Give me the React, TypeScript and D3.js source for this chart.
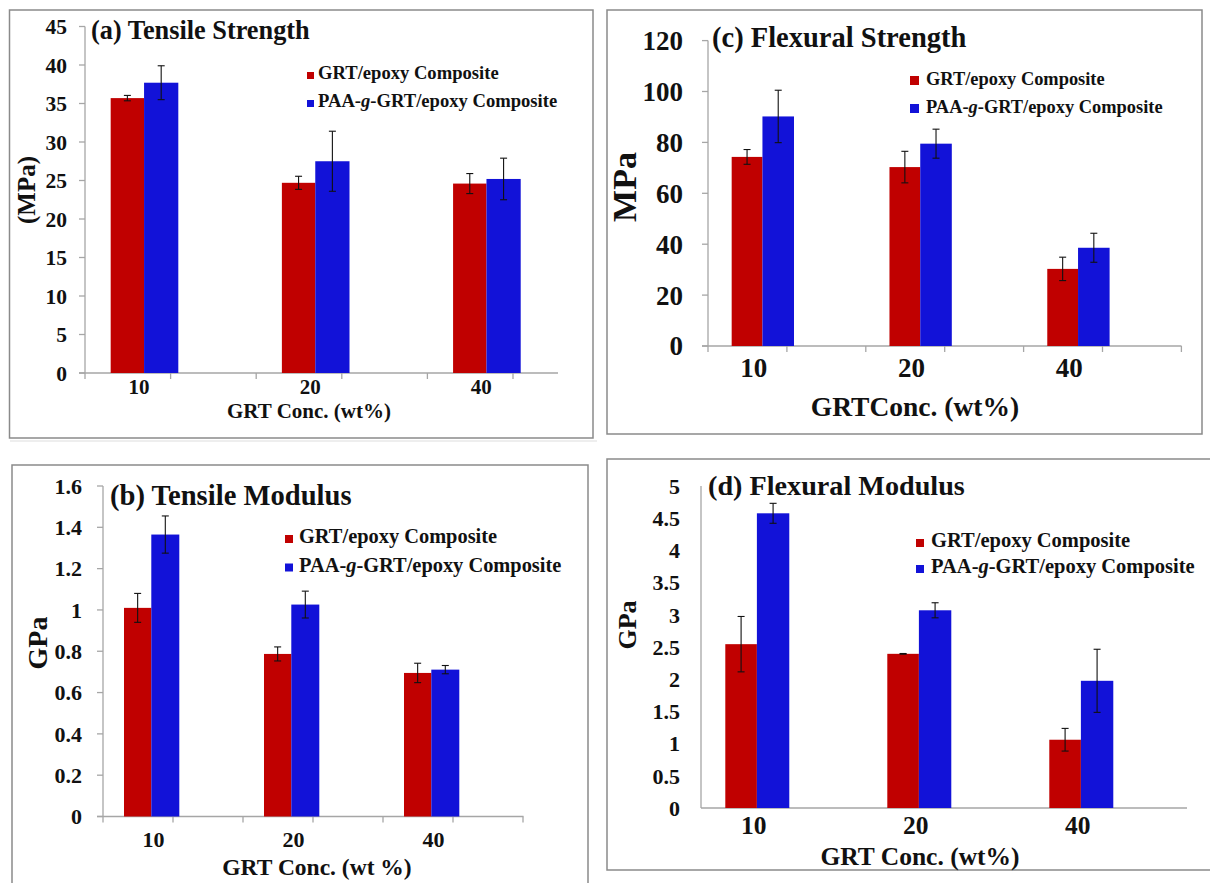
import React from "react";
import * as d3 from "d3";

// ---------- data ----------
const categories = ["10", "20", "40"];

const tensileStrengthGRT = [35.7, 24.7, 24.6];
const tensileStrengthGRTErr = [0.35, 0.85, 1.3];
const tensileStrengthPAA = [37.7, 27.5, 25.2];
const tensileStrengthPAAErr = [2.2, 3.9, 2.7];

const tensileModulusGRT = [1.01, 0.787, 0.695];
const tensileModulusGRTErr = [0.07, 0.034, 0.047];
const tensileModulusPAA = [1.365, 1.026, 0.711];
const tensileModulusPAAErr = [0.09, 0.065, 0.02];

const flexuralStrengthGRT = [74.3, 70.3, 30.3];
const flexuralStrengthGRTErr = [2.9, 6.2, 4.6];
const flexuralStrengthPAA = [90.2, 79.5, 38.6];
const flexuralStrengthPAAErr = [10.3, 5.7, 5.7];

const flexuralModulusGRT = [2.544, 2.394, 1.06];
const flexuralModulusGRTErr = [0.43, 0.005, 0.176];
const flexuralModulusPAA = [4.576, 3.07, 1.975];
const flexuralModulusPAAErr = [0.155, 0.117, 0.49];

const seriesNames = ["GRT/epoxy Composite", "PAA-g-GRT/epoxy Composite"];

const FONT = "'Liberation Serif', 'Times New Roman', serif";
const RED = "#c00000";
const BLUE = "#1212d8";
const AXIS = "#a6a6a6";

type Cfg = {
  title: string;
  yLabel: string;
  xLabel: string;
  red: number[]; redErr: number[]; blue: number[]; blueErr: number[];
  yMax: number; yStep: number;
  box: [number, number, number, number];
  x0: number; slot: number; axisEnd: number; xTickMax: number;
  y0: number; yTop: number;
  ticks: boolean;
  tickFs: number; tickRight: number;
  catFs: number; catY: number; catOff: number;
  titleFs: number; titleX: number; titleY: number;
  legFs: number; legX: number; legY1: number; legY2: number; sq: number; sqX: number;
  xlFs: number; xlX: number; xlY: number;
  ylFs: number; ylX: number; ylY: number;
};

const panels: Cfg[] = [
  {
    title: "(a) Tensile Strength", yLabel: "(MPa)", xLabel: "GRT Conc. (wt%)",
    red: tensileStrengthGRT, redErr: tensileStrengthGRTErr, blue: tensileStrengthPAA, blueErr: tensileStrengthPAAErr,
    yMax: 45, yStep: 5,
    box: [9.5, 10, 593, 438],
    x0: 85, slot: 85.6, axisEnd: 558, xTickMax: 5,
    y0: 373, yTop: 26.5, ticks: true,
    tickFs: 21.5, tickRight: 67,
    catFs: 21, catY: 394, catOff: 0.63,
    titleFs: 26.3, titleX: 91, titleY: 39,
    legFs: 18.6, legX: 318, legY1: 79, legY2: 107, sq: 7, sqX: 307,
    xlFs: 21, xlX: 309, xlY: 418,
    ylFs: 25, ylX: 26, ylY: 190,
  },
  {
    title: "(b) Tensile Modulus", yLabel: "GPa", xLabel: "GRT Conc. (wt %)",
    red: tensileModulusGRT, redErr: tensileModulusGRTErr, blue: tensileModulusPAA, blueErr: tensileModulusPAAErr,
    yMax: 1.6, yStep: 0.2,
    box: [12, 465, 588, 900],
    x0: 103, slot: 70, axisEnd: 523.5, xTickMax: 6,
    y0: 816.5, yTop: 486, ticks: true,
    tickFs: 22, tickRight: 82,
    catFs: 22, catY: 847, catOff: 0.72,
    titleFs: 28.6, titleX: 110, titleY: 505,
    legFs: 20.4, legX: 299, legY1: 543, legY2: 571.5, sq: 8, sqX: 285,
    xlFs: 23.5, xlX: 317, xlY: 875,
    ylFs: 28, ylX: 37, ylY: 643,
  },
  {
    title: "(c) Flexural Strength", yLabel: "MPa", xLabel: "GRTConc. (wt%)",
    red: flexuralStrengthGRT, redErr: flexuralStrengthGRTErr, blue: flexuralStrengthPAA, blueErr: flexuralStrengthPAAErr,
    yMax: 120, yStep: 20,
    box: [607, 10, 1202, 434],
    x0: 708, slot: 78.9, axisEnd: 1181.5, xTickMax: 6,
    y0: 346, yTop: 40.6, ticks: true,
    tickFs: 27, tickRight: 683,
    catFs: 27, catY: 377, catOff: 0.58,
    titleFs: 28.5, titleX: 712, titleY: 47,
    legFs: 18.4, legX: 926, legY1: 85, legY2: 113, sq: 9, sqX: 910,
    xlFs: 27.5, xlX: 915, xlY: 416,
    ylFs: 34, ylX: 624, ylY: 187,
  },
  {
    title: "(d) Flexural Modulus", yLabel: "GPa", xLabel: "GRT Conc. (wt%)",
    red: flexuralModulusGRT, redErr: flexuralModulusGRTErr, blue: flexuralModulusPAA, blueErr: flexuralModulusPAAErr,
    yMax: 5, yStep: 0.5,
    box: [607, 459, 1220, 870],
    x0: 701, slot: 81, axisEnd: 1187, xTickMax: -1,
    y0: 808, yTop: 486, ticks: false,
    tickFs: 22, tickRight: 680,
    catFs: 25.5, catY: 834, catOff: 0.65,
    titleFs: 28.2, titleX: 708, titleY: 495,
    legFs: 20.5, legX: 931, legY1: 547, legY2: 573, sq: 8, sqX: 916,
    xlFs: 25.5, xlX: 920, xlY: 864.5,
    ylFs: 26, ylX: 627, ylY: 625,
  },
];

function fmt(v: number) {
  return String(+v.toFixed(2));
}

function LegendText({ text, x, y, fs }: { text: string; x: number; y: number; fs: number }) {
  if (text.includes("-g-")) {
    const [a, b] = text.split("-g-");
    return (
      <text x={x} y={y} fontSize={fs} fontFamily={FONT} fontWeight="bold" fill="#111">
        <tspan>{a}-</tspan>
        <tspan fontStyle="italic">g</tspan>
        <tspan>-{b}</tspan>
      </text>
    );
  }
  return (
    <text x={x} y={y} fontSize={fs} fontFamily={FONT} fontWeight="bold" fill="#111">
      {text}
    </text>
  );
}

function Panel({ c }: { c: Cfg }) {
  const x = d3.scaleLinear().domain([0, 6]).range([c.x0, c.x0 + 6 * c.slot]);
  const y = d3.scaleLinear().domain([0, c.yMax]).range([c.y0, c.yTop]);
  const yTicks = d3.range(0, c.yMax + c.yStep / 2, c.yStep);
  const xTicks = c.xTickMax >= 0 ? d3.range(0, c.xTickMax + 1) : [];
  const [bx0, by0, bx1, by1] = c.box;
  const capW = 3.5;

  const bars = categories.flatMap((cat, i) => {
    const s = 2 * i;
    return [
      { key: `r${i}`, x0: x(s + 0.3), x1: x(s + 0.69), v: c.red[i], e: c.redErr[i], color: RED },
      { key: `b${i}`, x0: x(s + 0.69), x1: x(s + 1.09), v: c.blue[i], e: c.blueErr[i], color: BLUE },
    ];
  });

  return (
    <g>
      <rect x={bx0} y={by0} width={bx1 - bx0} height={by1 - by0} fill="none" stroke="#8a8a8a" strokeWidth={1.5} />
      {/* axes */}
      <line x1={c.x0} x2={c.x0} y1={c.y0} y2={c.yTop} stroke={AXIS} strokeWidth={1.3} />
      <line x1={c.ticks ? c.x0 - 6 : c.x0} x2={c.axisEnd} y1={c.y0} y2={c.y0} stroke={AXIS} strokeWidth={1.3} />
      {c.ticks &&
        yTicks.map((t) => (
          <line key={"yt" + t} x1={c.x0 - 6} x2={c.x0} y1={y(t)} y2={y(t)} stroke={AXIS} strokeWidth={1.3} />
        ))}
      {xTicks.map((t) => (
        <line key={"xt" + t} x1={x(t)} x2={x(t)} y1={c.y0} y2={c.y0 + 6} stroke={AXIS} strokeWidth={1.3} />
      ))}
      {yTicks.map((t) => (
        <text
          key={"yl" + t}
          x={c.tickRight}
          y={y(t)}
          dy="0.35em"
          textAnchor="end"
          fontSize={c.tickFs}
          fontFamily={FONT}
          fontWeight="bold"
          fill="#111"
        >
          {fmt(t)}
        </text>
      ))}
      {/* bars */}
      {bars.map((b) => (
        <rect key={b.key} x={b.x0} y={y(b.v)} width={b.x1 - b.x0} height={c.y0 - y(b.v)} fill={b.color} />
      ))}
      {/* error bars */}
      {bars.map((b) => {
        const cx = (b.x0 + b.x1) / 2;
        return (
          <g key={"e" + b.key} stroke="#111" strokeWidth={1.1}>
            <line x1={cx} x2={cx} y1={y(b.v + b.e)} y2={y(b.v - b.e)} />
            <line x1={cx - capW} x2={cx + capW} y1={y(b.v + b.e)} y2={y(b.v + b.e)} />
            <line x1={cx - capW} x2={cx + capW} y1={y(b.v - b.e)} y2={y(b.v - b.e)} />
          </g>
        );
      })}
      {/* category labels */}
      {categories.map((cat, i) => (
        <text
          key={"c" + cat}
          x={x(2 * i + c.catOff)}
          y={c.catY}
          textAnchor="middle"
          fontSize={c.catFs}
          fontFamily={FONT}
          fontWeight="bold"
          fill="#111"
        >
          {cat}
        </text>
      ))}
      {/* title */}
      <text x={c.titleX} y={c.titleY} fontSize={c.titleFs} fontFamily={FONT} fontWeight="bold" fill="#111">
        {c.title}
      </text>
      {/* legend */}
      <rect x={c.sqX} y={c.legY1 - c.sq} width={c.sq} height={c.sq} fill={RED} />
      <rect x={c.sqX} y={c.legY2 - c.sq} width={c.sq} height={c.sq} fill={BLUE} />
      <LegendText text={seriesNames[0]} x={c.legX} y={c.legY1} fs={c.legFs} />
      <LegendText text={seriesNames[1]} x={c.legX} y={c.legY2} fs={c.legFs} />
      {/* axis labels */}
      <text x={c.xlX} y={c.xlY} textAnchor="middle" fontSize={c.xlFs} fontFamily={FONT} fontWeight="bold" fill="#111">
        {c.xLabel}
      </text>
      <text
        transform={`translate(${c.ylX},${c.ylY}) rotate(-90)`}
        textAnchor="middle"
        dy="0.35em"
        fontSize={c.ylFs}
        fontFamily={FONT}
        fontWeight="bold"
        fill="#111"
      >
        {c.yLabel}
      </text>
    </g>
  );
}

export default function App() {
  return (
    <div style={{ position: "absolute", left: 0, top: 0 }}>
      <svg width={1210} height={883} style={{ display: "block", background: "#fff" }}>
        <rect width={1210} height={883} fill="#fff" />
        <line x1={10} x2={597} y1={441} y2={441} stroke="#dddddd" strokeWidth={1} />
        {panels.map((p) => (
          <Panel key={p.title} c={p} />
        ))}
      </svg>
    </div>
  );
}
